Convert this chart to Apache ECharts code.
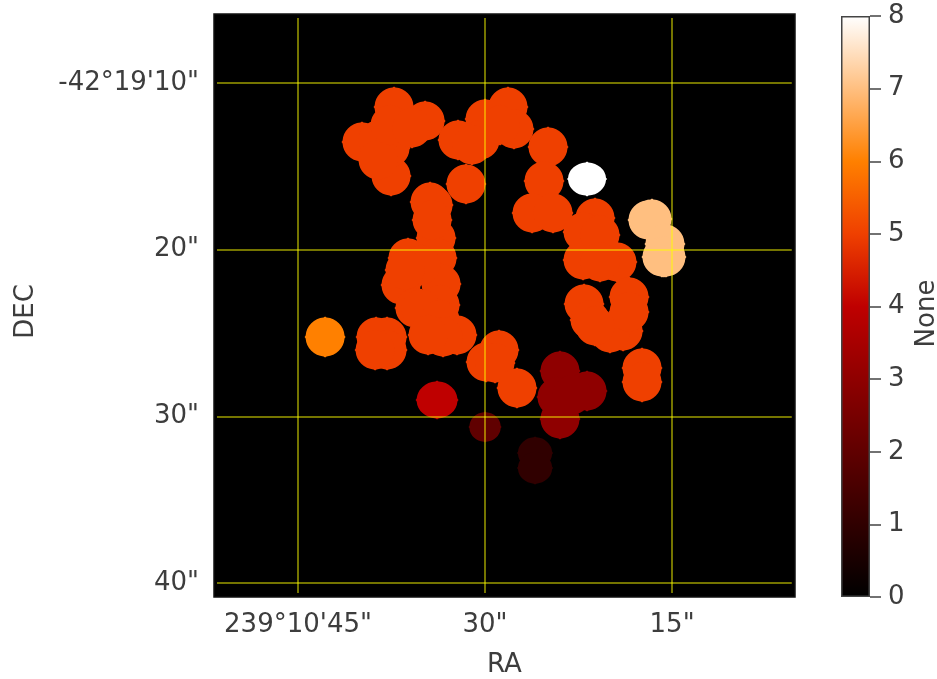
<!DOCTYPE html>
<html><head><meta charset="utf-8">
<style>html,body{margin:0;padding:0;background:#fff}#c{width:937px;height:679px}</style>
<script src="https://cdn.jsdelivr.net/npm/echarts@6/dist/echarts.min.js"></script>
</head><body><div id="c"></div>
<script>
// Source blobs: RA seconds of arc (239 deg 10'), DEC seconds of arc (-42 deg 19'), level
const blobRa = [37.30,34.81,39.87,37.54,37.62,32.17,31.53,30.00,28.16,27.68,30.40,34.41,24.95,25.27,26.23,24.55,21.18,21.58,22.14,19.42,20.78,22.06,18.45,18.93,17.41,17.41,22.14,20.78,20.78,21.58,19.98,18.45,21.18,
  37.86,38.74,37.86,38.82,33.93,33.85,36.18,36.74,35.62,33.53,33.61,35.14,35.14,36.42,33.61,32.25,33.37,34.57,28.88,29.92,29.20,27.44,38.58,38.58,37.62,35.86,31.05,28.80,34.17,34.25,
  16.93,16.61,15.57,15.65,15.81,15.49,42.83,33.85,23.99,21.82,23.99,24.23,23.03,30.00,25.99,25.99,21.82];
const blobDec = [11.44,12.28,13.54,15.58,13.90,13.42,16.06,12.16,11.44,12.76,13.42,17.14,13.84,15.88,17.80,17.80,18.10,19.00,20.62,20.74,20.32,23.26,22.84,24.88,27.10,27.94,18.94,19.12,20.74,24.22,25.00,23.74,24.58,
  25.24,25.24,26.02,26.02,19.30,20.50,20.50,22.12,23.50,22.06,23.32,20.92,23.56,21.22,24.22,25.12,25.24,25.12,26.02,26.74,26.80,28.30,13.42,14.62,12.52,12.70,13.72,12.52,17.32,18.22,
  18.22,18.16,19.66,20.44,20.44,20.44,25.24,29.02,27.28,28.48,30.16,28.84,28.72,30.64,32.20,33.10,15.76];
const blobValue = [5,5,5,5,5,5,5,5,5,5,5,5,5,5,5,5,5,5,5,5,5,5,5,5,5,5,5,5,5,5,5,5,5,
  5,5,5,5,5,5,5,5,5,5,5,5,5,5,5,5,5,5,5,5,5,5,5,5,5,5,5,5,5,5,
  7,7,7,7,7,7,6,4,3,3,3,3,3,2,1,1,8];

const raTicks = [45,30,15];
const raLabels = ['239°10\'45"','30"','15"'];
const decTicks = [10,20,30,40];
const decLabels = ['-42°19\'10"','20"','30"','40"'];
const cbarTicks = [0,1,2,3,4,5,6,7,8];
// gist_heat at 0..8
const heat = ['#000000','#300000','#600000','#8f0000','#bf0000','#ef4000','#ff8000','#ffbf80','#ffffff'];

const FONT='DejaVu Sans', TXT='#3d3d3d', GRID='rgba(255,255,0,0.46)', FS=26;
const raRange=[5.14,51.74], decRange=[5.86,40.84];
const raIn=[5.4,51.5], decIn=[6.1,40.6];
const blobShape='path://M20.5 0L22 1.06A19.5 19.5 0 0 1 39.94 19L41 20.5L39.94 22A19.5 19.5 0 0 1 22 39.94L20.5 41L19 39.94A19.5 19.5 0 0 1 1.06 22L0 20.5L1.06 19A19.5 19.5 0 0 1 19 1.06Z';
const sizeOf=v=>v===8?[40,35]:v===4?[43,39]:v===2?[33,31]:v===1?[36,33]:41;

const points = blobRa.map((r,i)=>[r,blobDec[i],blobValue[i]]);
const lines = [
  ...raTicks.map(v=>[{coord:[v,decIn[0]]},{coord:[v,decIn[1]]}]),
  ...decTicks.map(v=>[{coord:[raIn[0],v]},{coord:[raIn[1],v]}])
];
const label=(t,l)=>v=>{const i=t.indexOf(v);return i<0?'':l[i];};

const chart = echarts.init(document.getElementById('c'),null,{renderer:'canvas'});
chart.setOption({
  animation:false,
  backgroundColor:'#fff',
  textStyle:{fontFamily:FONT},
  grid:[
    {left:214,top:14,width:581,height:583,outerBoundsMode:'none',show:true,backgroundColor:'#000',borderColor:'#111',borderWidth:1.5},
    {left:841,top:16,width:29,height:581,outerBoundsMode:'none',show:false}
  ],
  xAxis:[
    {type:'value',gridIndex:0,inverse:true,min:raRange[0],max:raRange[1],
     name:'RA',nameLocation:'middle',nameGap:55,nameTextStyle:{fontSize:FS,color:TXT,fontFamily:FONT},
     splitLine:{show:false},axisLine:{show:false},axisTick:{show:false},
     axisLabel:{customValues:raTicks,margin:15,fontSize:FS,color:TXT,fontFamily:FONT,formatter:label(raTicks,raLabels)}},
    {type:'category',gridIndex:1,data:['cbar'],show:false}
  ],
  yAxis:[
    {type:'value',gridIndex:0,inverse:true,min:decRange[0],max:decRange[1],
     name:'DEC',nameLocation:'middle',nameGap:175,nameTextStyle:{fontSize:FS,color:TXT,fontFamily:FONT,padding:[0,12,0,0]},
     splitLine:{show:false},axisLine:{show:false},axisTick:{show:false},
     axisLabel:{customValues:decTicks,margin:15,fontSize:FS,color:TXT,fontFamily:FONT,formatter:label(decTicks,decLabels)}},
    {type:'value',gridIndex:1,position:'right',min:0,max:8,interval:1,
     name:'None',nameLocation:'middle',nameGap:44,nameTextStyle:{fontSize:FS,color:TXT,fontFamily:FONT,padding:[0,14,0,0]},
     splitLine:{show:false},axisLine:{show:false},
     axisTick:{show:true,length:11,lineStyle:{color:'#444',width:1.5}},
     axisLabel:{margin:18,fontSize:FS,color:TXT,fontFamily:FONT,formatter:v=>String(v)}}
  ],
  visualMap:{show:false,seriesIndex:0,dimension:2,min:0,max:8,inRange:{color:heat}},
  series:[
    {type:'scatter',xAxisIndex:0,yAxisIndex:0,data:points,z:2,
     symbol:blobShape,symbolKeepAspect:false,
     symbolSize:d=>sizeOf(d[2]),
     itemStyle:{opacity:1,borderWidth:0},silent:true},
    {type:'line',xAxisIndex:0,yAxisIndex:0,data:[],z:5,silent:true,
     markLine:{symbol:'none',silent:true,animation:false,label:{show:false},z:5,
       lineStyle:{color:GRID,width:2,type:'solid'},data:lines}},
    {type:'bar',xAxisIndex:1,yAxisIndex:1,data:[cbarTicks[cbarTicks.length-1]],barWidth:'100%',silent:true,z:2,
     itemStyle:{borderColor:'#444',borderWidth:1.5,color:new echarts.graphic.LinearGradient(0,1,0,0,heat.map((c,i)=>({offset:i/(heat.length-1),color:c})))}}
  ]
});
</script></body></html>
